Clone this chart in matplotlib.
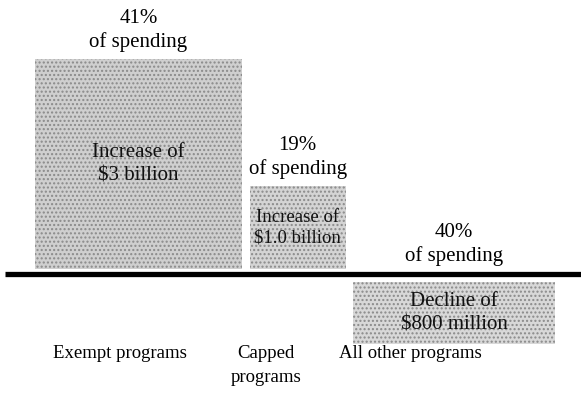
import matplotlib
matplotlib.use("Agg")
import matplotlib.pyplot as plt

# ---- data ----
categories = ["Exempt programs", "Capped\nprograms", "All other programs"]
share_pct = [41, 19, 40]                      # share of spending -> bar width
share_labels = ["41%\nof spending", "19%\nof spending", "40%\nof spending"]
bar_heights = [3.0, 1.19, -0.89]              # drawn bar heights (relative units)
change_labels = ["Increase of\n$3 billion", "Increase of\n$1.0 billion",
                 "Decline of\n$800 million"]

# ---- layout / style ----
W, H, DPI = 5.81, 4.18, 100
PX_X = 5.05   # px per percent
PX_Y = 70.0   # px per height unit
base_px = 273.5
left0 = 35 / PX_X
gap = 1.5
pad = 0.06

plt.rcParams['font.family'] = ['Liberation Serif', 'DejaVu Serif']
plt.rcParams['hatch.linewidth'] = 1.0
fig = plt.figure(figsize=(W, H), dpi=DPI)
ax = fig.add_axes([0, 0, 1, 1])
ax.set_xlim(0, 581 / PX_X)
ax.set_ylim(-(418 - base_px) / PX_Y, base_px / PX_Y)
ax.axis('off')

lefts = []
x = left0
for w in share_pct:
    lefts.append(x)
    x += w + gap

fills = ['#cfcfcf', '#d4d4d4', '#d8d8d8']
for i, (l, w, h) in enumerate(zip(lefts, share_pct, bar_heights)):
    b = pad if h > 0 else -pad - 0.06
    ax.bar(l, h, width=w, bottom=b, align='edge', facecolor=fills[i],
           edgecolor='#8a8a8a', hatch='....', linewidth=0)
    cx = l + w / 2
    fs_in = 13.5 if i == 1 else 15
    ax.text(cx, b + h / 2, change_labels[i], ha='center', va='center',
            fontsize=fs_in, linespacing=1.3, color='#111111')
    if h > 0:
        ax.text(cx, b + h + 0.1, share_labels[i], ha='center', va='bottom',
                fontsize=15, linespacing=1.3)
    else:
        ax.text(cx, 0.1, share_labels[i], ha='center', va='bottom',
                fontsize=15, linespacing=1.3)

# baseline
ax.plot([5 / PX_X, 581 / PX_X], [0, 0], color='black', lw=3.8,
        solid_capstyle='butt')

# category labels
cat_x_px = [120, 266, 410]
for lab, xp in zip(categories, cat_x_px):
    ax.text(xp / PX_X, -(345 - base_px) / PX_Y, lab, ha='center', va='top',
            fontsize=13.5, linespacing=1.55)

fig.savefig('out.png', dpi=DPI)
